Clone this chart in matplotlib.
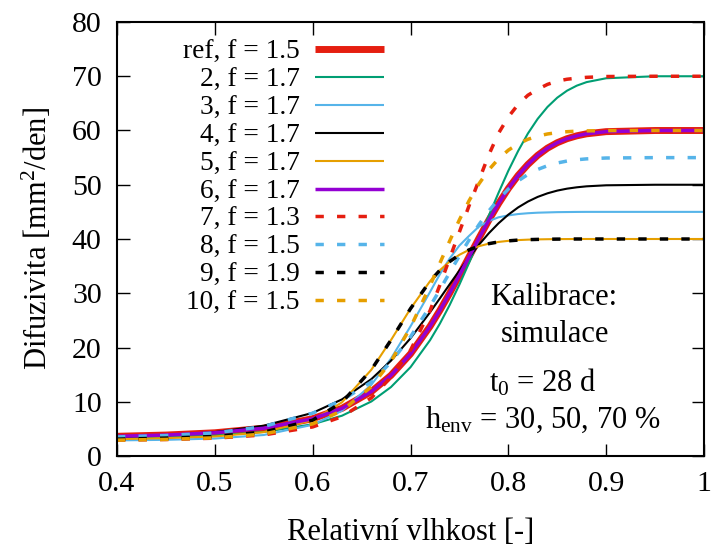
import matplotlib
matplotlib.use("Agg")
import matplotlib.pyplot as plt

plt.rcParams['font.family'] = ['Liberation Serif', 'DejaVu Serif']
plt.rcParams['mathtext.fontset'] = 'custom'
plt.rcParams['mathtext.rm'] = 'Liberation Serif'
plt.rcParams['mathtext.it'] = 'Liberation Serif:italic'

# relative humidity grid
h = [0.40, 0.45, 0.50, 0.55, 0.60, 0.63, 0.66, 0.68, 0.70, 0.72, 0.73, 0.74,
     0.75, 0.76, 0.77, 0.78, 0.79, 0.80, 0.81, 0.82, 0.83, 0.84, 0.85, 0.86,
     0.87, 0.88, 0.90, 0.95, 1.00]

d_ref = [3.63, 3.86, 4.28, 5.12, 6.87, 8.79, 11.87, 14.86, 18.83, 23.9, 26.84, 30.0,
         33.33, 36.75, 40.16, 43.45, 46.52, 49.3, 51.72, 53.74, 55.42, 56.75, 57.75, 58.49,
         59.02, 59.39, 59.79, 60.0, 60.0]
d_2 = [3.26, 3.44, 3.77, 4.43, 5.85, 7.43, 10.05, 12.7, 16.37, 21.35, 24.39, 27.82,
       31.6, 35.66, 39.92, 44.29, 48.52, 52.58, 56.22, 59.45, 62.15, 64.34, 66.05, 67.34,
       68.27, 68.92, 69.63, 70.0, 70.0]
d_3 = [2.88, 2.98, 3.22, 3.87, 5.75, 8.35, 13.13, 17.94, 23.9, 30.25, 33.5, 36.4,
       38.8, 40.6, 42.3, 43.3, 44.0, 44.35, 44.6, 44.75, 44.85, 44.9, 44.95, 44.97,
       44.99, 45.0, 45.0, 45.0, 45.0]
d_4 = [3.48, 3.80, 4.41, 5.58, 7.95, 10.44, 14.17, 17.56, 21.7, 26.5, 29.05, 31.64,
       34.19, 36.65, 38.95, 41.05, 42.9, 44.49, 45.82, 46.9, 47.76, 48.42, 48.92, 49.28,
       49.53, 49.71, 49.9, 50.0, 50.0]
d_5 = [3.1, 3.3, 3.6, 4.4, 6.6, 9.9, 15.9, 21.35, 27.16, 32.23, 34.24, 35.84,
       37.09, 38.01, 38.68, 39.14, 39.46, 39.66, 39.8, 39.88, 39.93, 39.96, 39.98, 39.99,
       40.0, 40.0, 40.0, 40.0, 40.0]
d_6 = [3.63, 3.86, 4.28, 5.12, 6.87, 8.79, 11.87, 14.86, 18.83, 23.9, 26.84, 30.0,
       33.33, 36.75, 40.16, 43.45, 46.52, 49.3, 51.72, 53.74, 55.42, 56.75, 57.75, 58.49,
       59.02, 59.39, 59.79, 60.0, 60.0]
d_7 = [2.93, 3.04, 3.29, 3.88, 5.36, 7.25, 10.72, 14.5, 19.5, 26.8, 31.5, 36.4,
       41.31, 46.2, 50.84, 55.5, 59.5, 62.5, 64.8, 66.5, 67.6, 68.5, 69.1, 69.45,
       69.65, 69.8, 69.95, 70.0, 70.0]
d_8 = [3.52, 3.77, 4.24, 5.45, 7.9, 10.3, 13.63, 17.29, 21.97, 27.59, 30.64, 33.8,
       36.88, 39.86, 42.65, 45.16, 47.35, 49.2, 50.71, 51.9, 52.82, 53.51, 54.01, 54.37,
       54.61, 54.77, 54.93, 55.0, 55.0]
d_9 = [3.1, 3.3, 3.6, 4.4, 6.6, 9.9, 15.9, 21.35, 27.16, 32.23, 34.24, 35.84,
       37.09, 38.01, 38.68, 39.14, 39.46, 39.66, 39.8, 39.88, 39.93, 39.96, 39.98, 39.99,
       40.0, 40.0, 40.0, 40.0, 40.0]
d_10 = [2.93, 3.06, 3.35, 4.06, 5.92, 8.35, 12.79, 17.43, 23.7, 31.4, 35.53, 39.63,
        43.54, 47.1, 50.18, 52.74, 54.79, 56.37, 57.54, 58.38, 58.96, 59.36, 59.61, 59.78,
        59.88, 59.93, 59.98, 60.0, 60.0]

labels = ["ref, f = 1.5", "2, f = 1.7", "3, f = 1.7", "4, f = 1.7", "5, f = 1.7",
          "6, f = 1.7", "7, f = 1.3", "8, f = 1.5", "9, f = 1.9", "10, f = 1.5"]
series = [d_ref, d_2, d_3, d_4, d_5, d_6, d_7, d_8, d_9, d_10]

RED = '#e51e10'; GREEN = '#009e73'; LBLUE = '#56b4e9'; ORANGE = '#e69f00'; PURPLE = '#9400d3'
dash = (0, (2.4, 3.8))
styles = [
    dict(color=RED, lw=5.0, ls='-'),
    dict(color=GREEN, lw=1.5, ls='-'),
    dict(color=LBLUE, lw=1.5, ls='-'),
    dict(color='black', lw=1.5, ls='-'),
    dict(color=ORANGE, lw=1.5, ls='-'),
    dict(color=PURPLE, lw=2.5, ls='-'),
    dict(color=RED, lw=2.5, ls=dash),
    dict(color=LBLUE, lw=2.5, ls=dash),
    dict(color='black', lw=2.5, ls=dash),
    dict(color=ORANGE, lw=2.5, ls=dash),
]

W, H = 712, 550
fig = plt.figure(figsize=(W / 100, H / 100), dpi=100)
L, R, T, B = 117, 704, 22, 456
ax = fig.add_axes([L / W, (H - B) / H, (R - L) / W, (B - T) / H])

for d, st in zip(series, styles):
    ax.plot(h, d, color=st['color'], lw=st['lw'], linestyle=st['ls'],
            solid_joinstyle='round')

ax.set_xlim(0.4, 1.0)
ax.set_ylim(0, 80)
ax.set_xticks([0.4, 0.5, 0.6, 0.7, 0.8, 0.9, 1.0])
ax.set_xticklabels(["0.4", "0.5", "0.6", "0.7", "0.8", "0.9", "1"])
ax.set_yticks(range(0, 81, 10))
ax.tick_params(direction='in', top=True, right=True, length=9, width=1.0,
               labelsize=21.5, pad=11)
for s in ax.spines.values():
    s.set_linewidth(1.5)

ax.set_xlabel("Relativní vlhkost [-]", fontsize=22, labelpad=15)
ax.set_ylabel(r"Difuzivita [mm$^\mathregular{2}$/den]", fontsize=22, labelpad=13)

# legend (gnuplot style: right-aligned text, sample on the right)
ah = B - T
for i, (lab, st) in enumerate(zip(labels, styles)):
    ypx = 49 + 27.9 * i
    yf = (B - ypx) / ah
    ybase = (B - (ypx + 10)) / ah
    ax.text((300 - L) / (R - L), ybase, lab, ha='right', va='baseline',
            fontsize=19.7, transform=ax.transAxes)
    ax.plot([(315 - L) / (R - L), (384 - L) / (R - L)], [yf, yf],
            color=st['color'], lw=st['lw'], linestyle=st['ls'],
            transform=ax.transAxes, solid_capstyle='butt')

def figtext(xpx, ybase_px, s):
    fig.text(xpx / W, (H - ybase_px) / H, s, ha='center', va='baseline', fontsize=22)

figtext(554, 305, "Kalibrace:")
figtext(555, 342, "simulace")
figtext(543, 391, r"$\mathregular{t_0}$ = 28 d")
figtext(543, 428, r"$\mathregular{h_{env}}$ = 30, 50, 70 %")

fig.savefig("out.png", dpi=100)
